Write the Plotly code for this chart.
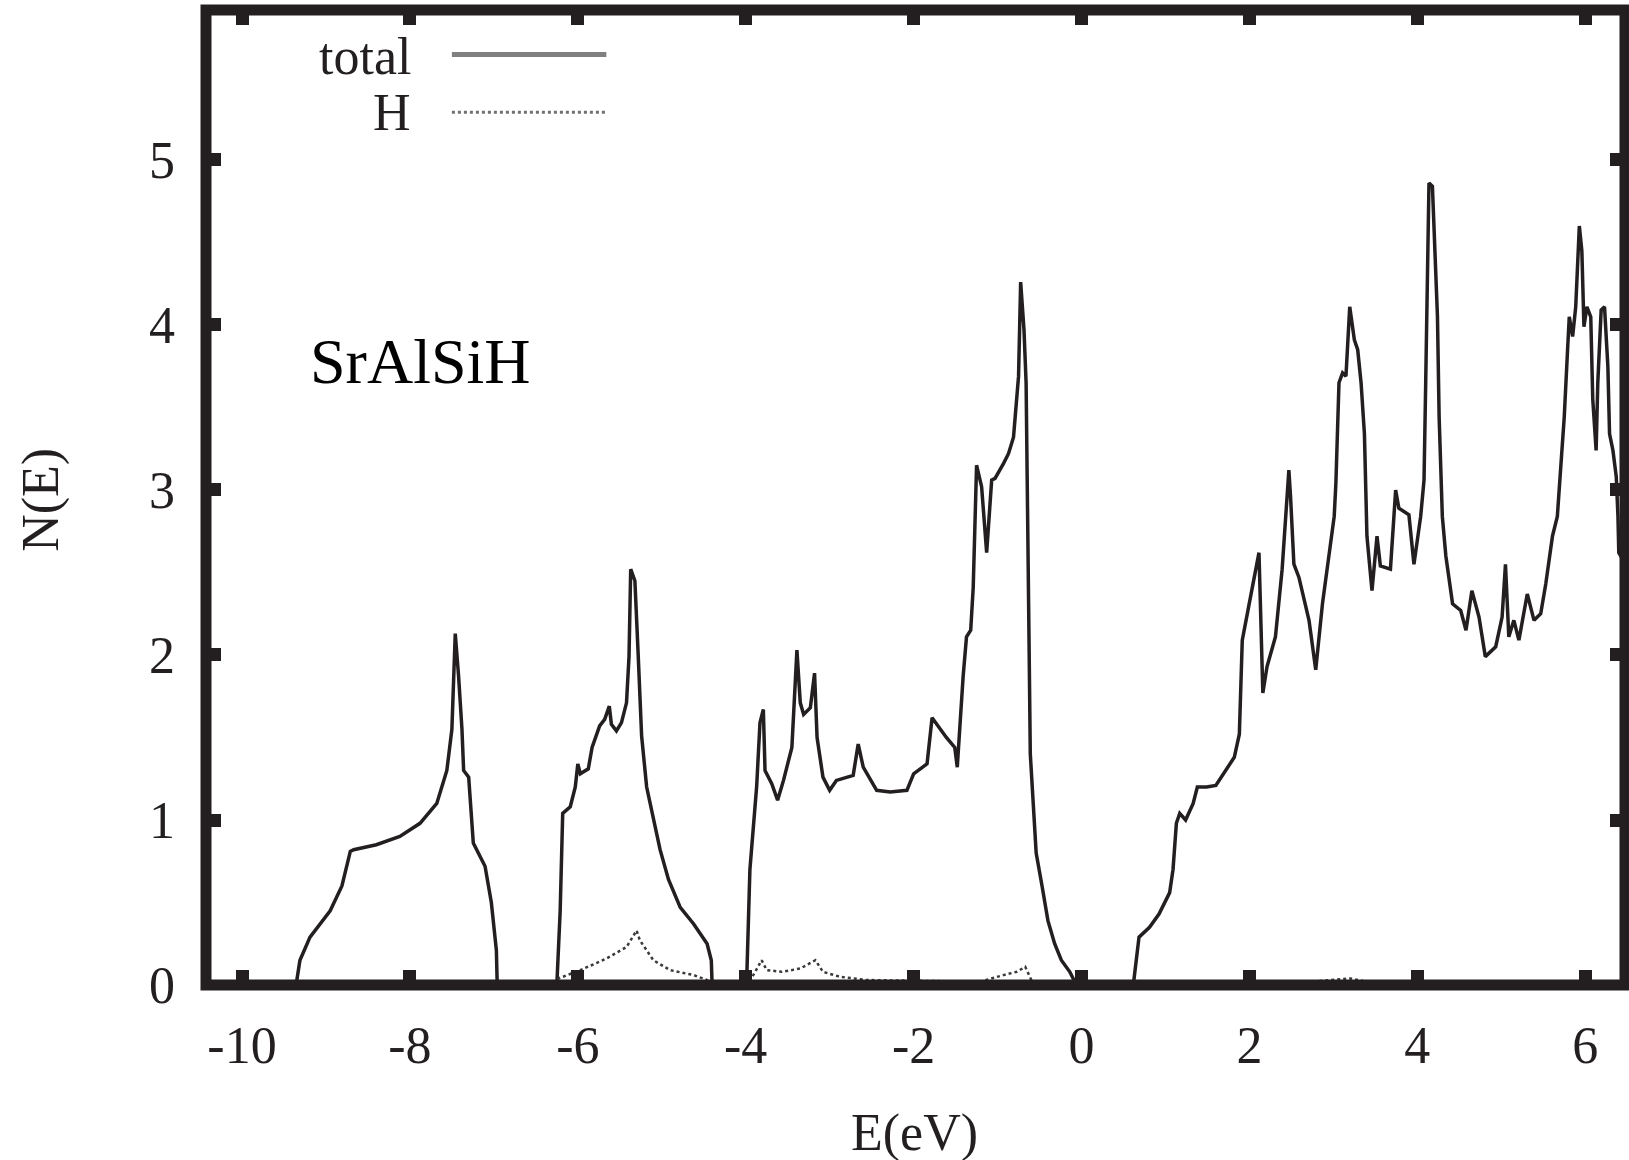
import plotly.graph_objects as go

# Total density of states N(E) for SrAlSiH, energies in eV
energy_total = [
    -10.40, -9.40, -9.35, -9.31, -9.19, -8.95, -8.81, -8.71, -8.67, -8.40, -8.12,
    -7.88, -7.68, -7.56, -7.50, -7.46, -7.42, -7.38, -7.36, -7.30, -7.245,
    -7.105, -7.03, -6.97, -6.96,
    -6.25, -6.21, -6.18, -6.09, -6.03, -6.00, -5.97, -5.875, -5.83, -5.74,
    -5.68, -5.625, -5.60, -5.54, -5.48, -5.42, -5.39, -5.37, -5.32, -5.28,
    -5.24, -5.18, -5.10, -5.02, -4.92, -4.78, -4.62, -4.46, -4.41, -4.40,
    -3.99, -3.95, -3.87, -3.83, -3.79, -3.77, -3.69, -3.62, -3.55, -3.45,
    -3.39, -3.35, -3.31, -3.23, -3.18, -3.15, -3.08, -3.00, -2.92, -2.72,
    -2.66, -2.60, -2.44, -2.28, -2.08, -2.00, -1.84, -1.78, -1.61, -1.51,
    -1.48, -1.45, -1.41, -1.37, -1.32, -1.29, -1.27, -1.25, -1.19, -1.13,
    -1.07, -1.03, -0.93, -0.87, -0.81, -0.78, -0.75, -0.725, -0.685, -0.66,
    -0.65, -0.63, -0.61, -0.57, -0.54, -0.47, -0.40, -0.32, -0.24, -0.14,
    -0.06,
    0.617, 0.66, 0.685, 0.81, 0.923, 1.05, 1.09, 1.13, 1.17, 1.24, 1.33,
    1.38, 1.49, 1.60, 1.70, 1.82, 1.88, 1.915, 1.99, 2.114, 2.16, 2.21,
    2.31, 2.39, 2.47, 2.49, 2.53, 2.59, 2.71, 2.79, 2.87, 2.95, 3.01, 3.03,
    3.067, 3.11, 3.15, 3.195, 3.25, 3.29, 3.33, 3.37, 3.39, 3.40, 3.46, 3.52,
    3.56, 3.68, 3.742, 3.78, 3.90, 3.96, 4.04, 4.08, 4.10, 4.12, 4.139, 4.18,
    4.21, 4.24, 4.26, 4.298, 4.34, 4.42, 4.517, 4.58, 4.65, 4.735, 4.81,
    4.934, 5.01, 5.05, 5.09, 5.15, 5.21, 5.31, 5.39, 5.47, 5.53, 5.61, 5.668,
    5.71, 5.75, 5.79, 5.81, 5.85, 5.887, 5.93, 5.96, 5.985, 6.02, 6.066,
    6.09, 6.13, 6.15, 6.19, 6.23, 6.27, 6.29, 6.33, 6.37, 6.39, 6.40, 6.48,
]
dos_total = [
    0.00, 0.00, 0.02, 0.15, 0.29, 0.45, 0.60, 0.81, 0.82, 0.85, 0.90,
    0.98, 1.10, 1.30, 1.55, 2.13, 1.87, 1.55, 1.30, 1.26, 0.86,
    0.72, 0.50, 0.21, 0.00,
    0.00, 0.45, 1.04, 1.08, 1.20, 1.34, 1.28, 1.31, 1.44, 1.57,
    1.61, 1.69, 1.58, 1.54, 1.59, 1.71, 1.99, 2.52, 2.45, 1.99,
    1.51, 1.20, 1.00, 0.82, 0.64, 0.47, 0.37, 0.25, 0.15, 0.00,
    0.00, 0.70, 1.20, 1.59, 1.67, 1.30, 1.22, 1.12, 1.24, 1.44,
    2.03, 1.71, 1.64, 1.68, 1.89, 1.50, 1.26, 1.18, 1.24, 1.27,
    1.46, 1.32, 1.18, 1.17, 1.18, 1.28, 1.34, 1.62, 1.50, 1.44,
    1.32, 1.59, 1.87, 2.11, 2.15, 2.41, 2.90, 3.15, 3.02, 2.62,
    3.06, 3.07, 3.16, 3.22, 3.32, 3.52, 3.69, 4.26, 3.97, 3.65,
    3.04, 2.31, 1.40, 1.00, 0.80, 0.60, 0.39, 0.25, 0.15, 0.08,
    0.00,
    0.00, 0.19, 0.29, 0.35, 0.43, 0.56, 0.70, 0.98, 1.04, 1.00, 1.10,
    1.20, 1.20, 1.21, 1.29, 1.38, 1.52, 2.09, 2.29, 2.62, 1.77, 1.93,
    2.11, 2.52, 3.12, 2.96, 2.55, 2.47, 2.21, 1.91, 2.31, 2.62, 2.84, 3.04,
    3.65, 3.71, 3.69, 4.11, 3.91, 3.85, 3.65, 3.34, 2.84, 2.72, 2.39, 2.72,
    2.54, 2.52, 3.00, 2.89, 2.85, 2.55, 2.84, 3.06, 3.65, 4.15, 4.86, 4.84,
    4.41, 4.05, 3.44, 2.84, 2.60, 2.31, 2.27, 2.15, 2.39, 2.23, 1.99,
    2.05, 2.23, 2.55, 2.11, 2.21, 2.09, 2.37, 2.21, 2.25, 2.43, 2.72, 2.84,
    3.14, 3.44, 3.85, 4.05, 3.93, 4.11, 4.60, 4.45, 3.99, 4.11, 4.05,
    3.55, 3.24, 3.65, 4.09, 4.11, 3.75, 3.34, 3.24, 3.08, 2.84, 2.62, 2.55,
]

# Hydrogen-projected density of states
energy_h = [
    -10.40, -6.25, -6.23, -5.97, -5.66, -5.42, -5.30, -5.26, -5.10, -4.90,
    -4.62, -4.46, -4.40, -3.99, -3.91, -3.81, -3.75, -3.57, -3.35, -3.17,
    -3.08, -2.88, -2.56, -1.21, -0.93, -0.77, -0.67, -0.61, -0.57, 0.62,
    1.50, 2.50, 3.20, 3.40, 4.20, 5.50, 6.48,
]
dos_h = [
    0.00, 0.00, 0.04, 0.09, 0.16, 0.23, 0.33, 0.27, 0.15, 0.09,
    0.06, 0.03, 0.00, 0.00, 0.06, 0.15, 0.09, 0.08, 0.10, 0.15,
    0.08, 0.05, 0.03, 0.02, 0.06, 0.08, 0.11, 0.05, 0.00, 0.00,
    0.01, 0.01, 0.04, 0.02, 0.02, 0.02, 0.02,
]

x_tick_values = [-10, -8, -6, -4, -2, 0, 2, 4, 6]
x_tick_labels = ["-10", "-8", "-6", "-4", "-2", "0", "2", "4", "6"]
y_tick_values = [0, 1, 2, 3, 4, 5]
y_tick_labels = ["0", "1", "2", "3", "4", "5"]

ink = "#231f20"
serif = "Liberation Serif, Times New Roman, serif"

fig = go.Figure()
fig.add_trace(go.Scatter(
    x=energy_total, y=dos_total, mode="lines", name="total",
    line=dict(color=ink, width=3.5), showlegend=False,
))
fig.add_trace(go.Scatter(
    x=energy_h, y=dos_h, mode="lines", name="H",
    line=dict(color="#3a3a3a", width=2.5, dash="dot"), showlegend=False,
))

# Hand-built key: right-aligned labels followed by line samples
fig.add_annotation(x=-7.96, y=5.63, xref="x", yref="y", text="total",
                   showarrow=False, xanchor="right", yanchor="middle",
                   font=dict(family=serif, size=52, color=ink))
fig.add_annotation(x=-7.96, y=5.29, xref="x", yref="y", text="H",
                   showarrow=False, xanchor="right", yanchor="middle",
                   font=dict(family=serif, size=52, color=ink))
fig.add_shape(type="line", x0=-7.50, x1=-5.66, y0=5.64, y1=5.64,
              xref="x", yref="y", line=dict(color="#808080", width=5))
fig.add_shape(type="line", x0=-7.50, x1=-5.66, y0=5.29, y1=5.29,
              xref="x", yref="y", line=dict(color="#707070", width=3, dash="dot"))

# Compound name inside the frame
fig.add_annotation(x=-9.21, y=3.78, xref="x", yref="y", text="SrAlSiH",
                   showarrow=False, xanchor="left", yanchor="middle",
                   font=dict(family=serif, size=64, color="#000000"))

# Axis titles
fig.add_annotation(x=0.499, y=-0.152, xref="paper", yref="paper", text="E(eV)",
                   showarrow=False, xanchor="center", yanchor="middle",
                   font=dict(family=serif, size=52, color=ink))
fig.add_annotation(x=-0.116, y=0.498, xref="paper", yref="paper", text="N(E)",
                   showarrow=False, xanchor="center", yanchor="middle", textangle=-90,
                   font=dict(family=serif, size=52, color=ink))

# Heavy frame around the plotting area
fig.add_shape(type="rect", x0=0, x1=1, y0=0, y1=1, xref="paper", yref="paper",
              line=dict(color=ink, width=11), layer="above")

fig.update_layout(
    width=1629, height=1160,
    margin=dict(l=206, r=4, t=10, b=175),
    paper_bgcolor="white", plot_bgcolor="white",
    font=dict(family=serif, size=52, color=ink),
    xaxis=dict(
        range=[-10.429, 6.474], tickmode="array",
        tickvals=x_tick_values, ticktext=x_tick_labels,
        ticks="inside", ticklen=15, tickwidth=13, tickcolor=ink,
        mirror="ticks", showline=False, showgrid=False, zeroline=False,
        ticklabelstandoff=25,
        tickfont=dict(family=serif, size=52, color=ink),
    ),
    yaxis=dict(
        range=[0, 5.909], tickmode="array",
        tickvals=y_tick_values, ticktext=y_tick_labels,
        ticks="inside", ticklen=15, tickwidth=13, tickcolor=ink,
        mirror="ticks", showline=False, showgrid=False, zeroline=False,
        ticklabelstandoff=30,
        tickfont=dict(family=serif, size=52, color=ink),
    ),
)

fig.write_html("out.html")
